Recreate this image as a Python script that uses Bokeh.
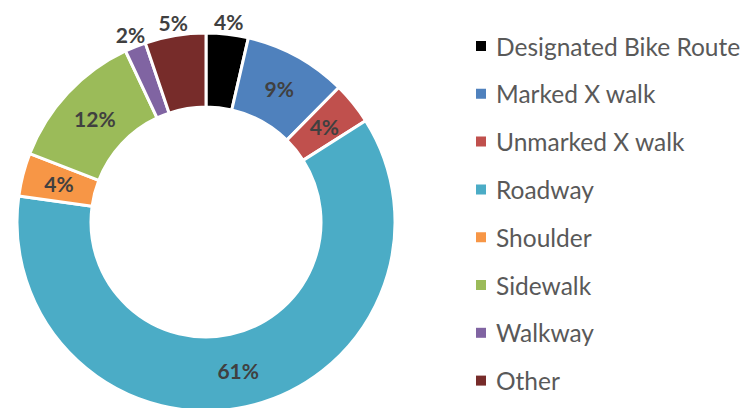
import math
from bokeh.plotting import figure
from bokeh.models import Range1d, ColumnDataSource
from bokeh.core.properties import value
from bokeh.embed import file_html
from bokeh.resources import INLINE

categories = ["Designated Bike Route", "Marked X walk", "Unmarked X walk", "Roadway",
              "Shoulder", "Sidewalk", "Walkway", "Other"]
shares = [3.6, 8.8, 3.6, 61.2, 3.7, 12.1, 1.8, 5.2]
colors = ["#000000", "#4F81BD", "#C0504D", "#4BACC6", "#F79646", "#9BBB59", "#8064A2", "#772C2A"]
outside_label = [True, False, False, False, False, False, True, True]

W, H = 748, 408
cx, cy = 205.5, H - 221.5
r_in, r_out = 115.0, 189.0

p = figure(width=W, height=H, output_backend="svg", toolbar_location=None,
           x_range=Range1d(0, W), y_range=Range1d(0, H), min_border=0)
p.axis.visible = False
p.grid.visible = False
p.outline_line_color = None
p.background_fill_color = "white"
p.border_fill_color = "white"

total = sum(shares)
starts, ends, lx, ly, ltxt = [], [], [], [], []
cum = 0.0
for v, out in zip(shares, outside_label):
    a0 = math.pi / 2 - 2 * math.pi * (cum + v) / total
    a1 = math.pi / 2 - 2 * math.pi * cum / total
    starts.append(a0)
    ends.append(a1)
    mid = (a0 + a1) / 2
    rr = 202.0 if out else (r_in + r_out) / 2
    lx.append(cx + rr * math.cos(mid))
    ly.append(cy + rr * math.sin(mid))
    ltxt.append(f"{round(100 * v / total)}%")
    cum += v

src = ColumnDataSource(dict(start=starts, end=ends, color=colors, cat=categories))
p.annular_wedge(x=cx, y=cy, inner_radius=r_in, outer_radius=r_out,
                start_angle="start", end_angle="end", fill_color="color",
                line_color="white", line_width=3, source=src)

p.text(x=lx, y=ly, text=ltxt, text_font=value("Lato"), text_font_style="bold",
       text_font_size="21px", text_color="#404040", text_align="center",
       text_baseline="middle")

# legend
leg_x = 480.5
leg_y0 = H - 45.5
leg_dy = 47.8
ys = [leg_y0 - i * leg_dy for i in range(len(categories))]
p.scatter(x=[leg_x] * len(categories), y=ys, marker="square", size=10,
          fill_color=colors, line_color=None)
p.text(x=[leg_x + 15] * len(categories), y=ys, text=categories, text_font=value("Lato"),
       text_font_size="24.5px", text_color="#595959", text_align="left",
       text_baseline="middle")

open("out.html", "w").write(file_html(p, INLINE))
